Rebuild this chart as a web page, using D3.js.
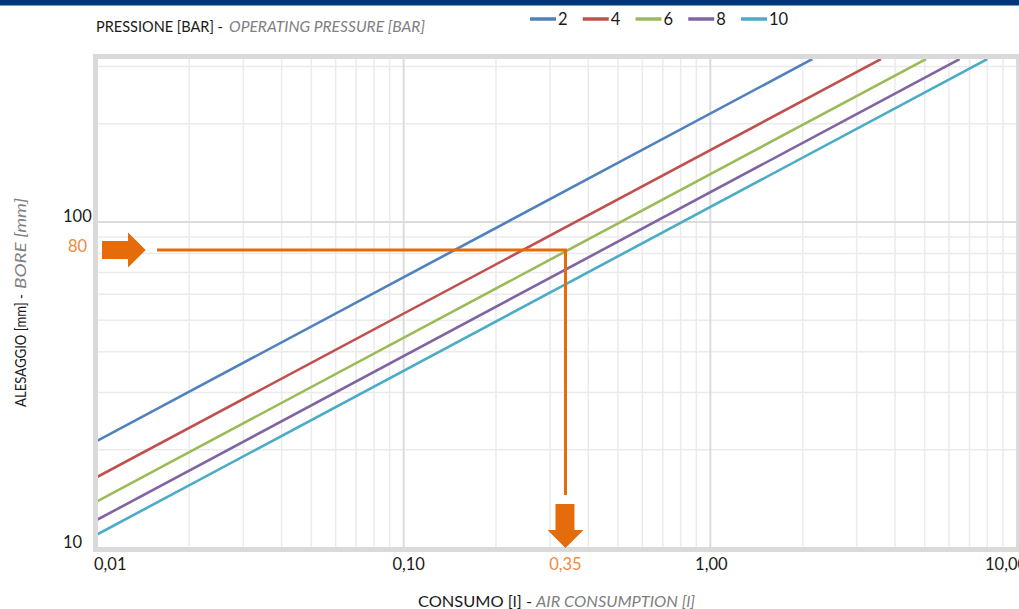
<!DOCTYPE html>
<html><head><meta charset="utf-8">
<script src="https://cdn.jsdelivr.net/npm/d3@7"></script>
<style>
html,body{margin:0;padding:0;background:#fff;overflow:hidden;}
svg{display:block;font-family:Lato,"Open Sans",sans-serif;}
</style></head>
<body>
<svg id="c" width="1019" height="609"></svg>
<script>
// ---- data ----
const pressures = ["2", "4", "6", "8", "10"];
const colors = ["#4f81bd", "#c0504d", "#9bbb59", "#8064a2", "#4bacc6"];
// each series: [consumption (l), bore (mm)] at the left edge and where it leaves the top
const series2  = [[0.01, 21.3], [2.15, 316]];
const series4  = [[0.01, 16.5], [3.6, 316]];
const series6  = [[0.01, 13.9], [5.05, 316]];
const series8  = [[0.01, 12.2], [6.5, 316]];
const series10 = [[0.01, 11.0], [8.0, 316]];
const xMajorTicks = [0.01, 0.1, 1, 10];
const xTickLabels = ["0,01", "0,10", "1,00", "10,00"];
const yMajorTicks = [10, 100];
const yTickLabels = ["10", "100"];
const annotationCons = 0.337, annotationBore = 82;
const annotationConsLabel = "0,35", annotationBoreLabel = "80";

const allSeries = [series2, series4, series6, series8, series10];

const svg = d3.select("#c");
const x = d3.scaleLog().domain([0.01, 10]).range([97, 1017]);
const y = d3.scaleLog().domain([10, 316.2]).range([548, 59]);

// top navy band
svg.append("rect").attr("x", 0).attr("y", 0).attr("width", 1019).attr("height", 5.5).attr("fill", "#00347b");

// grid
const xMinor = [], yMinor = [];
for (let d = 0.01; d < 10; d *= 10) for (let k = 2; k <= 9; k++) xMinor.push(+(d * k).toPrecision(3));
for (let d = 10; d < 1000; d *= 10) for (let k = 2; k <= 9; k++) { const v = d * k; if (v < 316) yMinor.push(v); }
const g = svg.append("g");
g.selectAll(".xm").data(xMinor).join("line")
  .attr("x1", d => x(d)).attr("x2", d => x(d)).attr("y1", 59).attr("y2", 548)
  .attr("stroke", "#ebebeb").attr("stroke-width", 1.5);
g.selectAll(".ym").data(yMinor).join("line")
  .attr("y1", d => y(d)).attr("y2", d => y(d)).attr("x1", 97).attr("x2", 1017)
  .attr("stroke", "#ebebeb").attr("stroke-width", 1.5);
g.selectAll(".xM").data(xMajorTicks).join("line")
  .attr("x1", d => x(d)).attr("x2", d => x(d)).attr("y1", 59).attr("y2", 548)
  .attr("stroke", "#dcdcdc").attr("stroke-width", 2);
g.selectAll(".yM").data(yMajorTicks).join("line")
  .attr("y1", d => y(d)).attr("y2", d => y(d)).attr("x1", 97).attr("x2", 1017)
  .attr("stroke", "#dcdcdc").attr("stroke-width", 2);

// series lines
svg.append("clipPath").attr("id", "clip").append("rect")
  .attr("x", 97).attr("y", 59).attr("width", 920).attr("height", 489);
const line = d3.line().x(d => x(d[0])).y(d => y(d[1]));
svg.append("g").attr("clip-path", "url(#clip)")
  .selectAll("path").data(allSeries).join("path")
  .attr("d", line).attr("fill", "none")
  .attr("stroke", (d, i) => colors[i]).attr("stroke-width", 2.6);

// plot frame
svg.append("rect").attr("x", 95.5).attr("y", 56.5).attr("width", 1019.5 - 95.5).attr("height", 549.5 - 56.5)
  .attr("fill", "none").attr("stroke", "#dadada").attr("stroke-width", 5);

// annotation
const orange = "#e46c0a", orangeText = "#f08a3c";
const ax = x(annotationCons), ay = y(annotationBore);
svg.append("line").attr("x1", 157).attr("x2", ax + 1.5).attr("y1", ay).attr("y2", ay)
  .attr("stroke", orange).attr("stroke-width", 3);
svg.append("line").attr("x1", ax).attr("x2", ax).attr("y1", ay).attr("y2", 495)
  .attr("stroke", orange).attr("stroke-width", 3);
// right arrow
svg.append("path").attr("fill", orange).attr("d",
  `M${x(0.01)+5},${ay-9} H128 V${ay-17.5} L${145.7},${ay} L128,${ay+17.5} V${ay+9} H${x(0.01)+5} Z`);
// down arrow
const ty = y(10);
svg.append("path").attr("fill", orange).attr("d",
  `M${ax-10},504 H${ax+9} V530 H${ax+18} L${ax},${ty} L${ax-18},530 H${ax-10} Z`);

// tick labels
const tickFont = 16.5;
const xl = svg.append("g").attr("font-size", tickFont).attr("fill", "#1a1a1a");
xl.append("text").attr("x", x(xMajorTicks[0]) - 3).attr("y", 570).attr("text-anchor", "start").text(xTickLabels[0]);
xl.append("text").attr("x", x(xMajorTicks[1]) + 5).attr("y", 570).attr("text-anchor", "middle").text(xTickLabels[1]);
xl.append("text").attr("x", x(xMajorTicks[2]) + 1).attr("y", 570).attr("text-anchor", "middle").text(xTickLabels[2]);
xl.append("text").attr("x", x(xMajorTicks[3]) - 32).attr("y", 570).attr("text-anchor", "start").text(xTickLabels[3]);
svg.append("text").attr("x", ax).attr("y", 570).attr("text-anchor", "middle")
  .attr("font-size", tickFont).attr("fill", orangeText).text(annotationConsLabel);

svg.append("g").attr("font-size", tickFont).attr("fill", "#1a1a1a")
  .selectAll("text").data(yMajorTicks).join("text")
  .attr("x", 63).attr("y", d => y(d)).text((d, i) => yTickLabels[i]);
svg.append("text").attr("x", 68).attr("y", ay + 1.5).attr("font-size", tickFont)
  .attr("fill", orangeText).text(annotationBoreLabel);

// titles
function twoPart(parent, x1, len1, x2, len2, t1, t2, size) {
  parent.append("text").attr("x", x1).attr("y", 0).attr("font-size", size).attr("fill", "#1a1a1a")
    .attr("textLength", len1).attr("lengthAdjust", "spacingAndGlyphs").text(t1);
  parent.append("text").attr("x", x2).attr("y", 0).attr("font-size", size).attr("fill", "#808080")
    .attr("font-style", "italic").attr("textLength", len2).attr("lengthAdjust", "spacingAndGlyphs").text(t2);
}
twoPart(svg.append("g").attr("transform", "translate(0,32)"), 96, 127, 229, 196,
  "PRESSIONE [BAR] -", "OPERATING PRESSURE [BAR]", 15.5);
twoPart(svg.append("g").attr("transform", "translate(0,607)"), 418, 114, 536, 159,
  "CONSUMO [l] -", "AIR CONSUMPTION [l]", 15.5);
twoPart(svg.append("g").attr("transform", "translate(26,0) rotate(-90)"), -407, 113, -289, 91,
  "ALESAGGIO [mm] -", "BORE [mm]", 15);

// legend
const leg = svg.append("g").selectAll("g").data(pressures).join("g")
  .attr("transform", (d, i) => `translate(${530 + i * 52.75},0)`);
leg.append("line").attr("x1", 0).attr("x2", 26).attr("y1", 19).attr("y2", 19)
  .attr("stroke", (d, i) => colors[i]).attr("stroke-width", 3.5);
leg.append("text").attr("x", 28).attr("y", 25).attr("font-size", 16.5).attr("fill", "#1a1a1a").text(d => d);
</script>
</body></html>
